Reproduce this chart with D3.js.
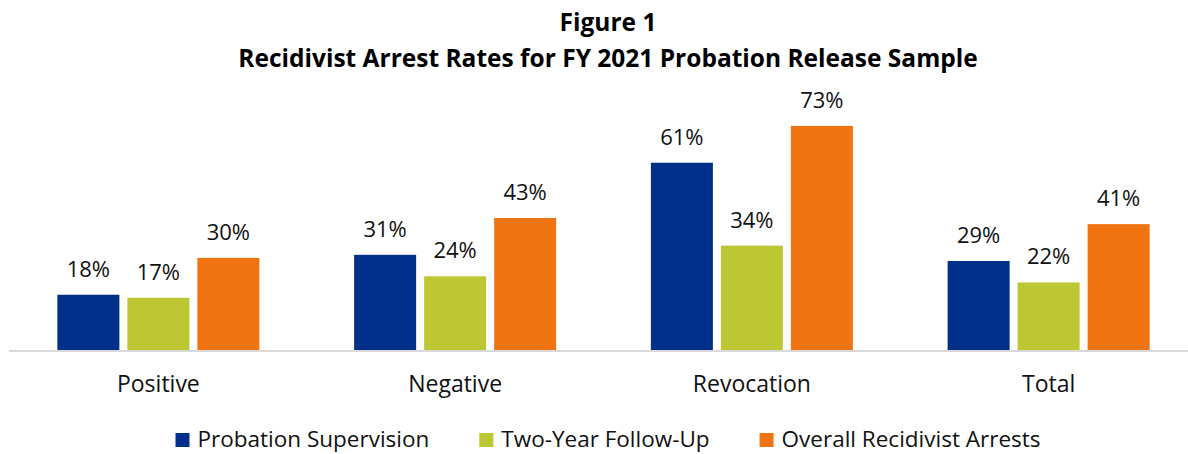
<!DOCTYPE html>
<html>
<head>
  <meta charset="utf-8">
  <title>Figure 1 – Recidivist Arrest Rates</title>
  <script src="https://d3js.org/d3.v7.min.js"></script>
  <style>
    html, body {
      margin: 0;
      padding: 0;
      background: #fff;
    }
    svg {
      display: block;
      font-family: "Open Sans", Lato, sans-serif;
    }
    .title {
      font-size: 24.5px;
      font-weight: bold;
      fill: #000;
    }
    .value {
      font-size: 22px;
      fill: #111;
    }
    .cat {
      font-size: 23px;
      fill: #111;
    }
    .legend-text {
      font-size: 22.5px;
      fill: #111;
    }
  </style>
</head>
<body>
  <svg id="chart" width="1188" height="454"></svg>

  <script>
    // chart data
    const categories = ["Positive", "Negative", "Revocation", "Total"];
    const seriesNames = ["Probation Supervision", "Two-Year Follow-Up", "Overall Recidivist Arrests"];
    const probationSupervision = [18, 31, 61, 29];
    const twoYearFollowUp = [17, 24, 34, 22];
    const overallArrests = [30, 43, 73, 41];
    const titleLines = ["Figure 1", "Recidivist Arrest Rates for FY 2021 Probation Release Sample"];

    const colors = ["#00308A", "#BDC633", "#F07411"];
    const seriesValues = [probationSupervision, twoYearFollowUp, overallArrests];

    const width = 1188, height = 454;
    const baseY = 350;
    const svg = d3.select("#chart");

    // title
    svg.selectAll(".title")
      .data(titleLines)
      .enter().append("text")
      .attr("class", "title")
      .attr("x", 608)
      .attr("y", (d, i) => i === 0 ? 31 : 67)
      .attr("text-anchor", "middle")
      .text(d => d);

    const x0 = d3.scaleBand()
      .domain(categories)
      .range([10, 1197])
      .padding(0);

    const groupW = 202;
    const x1 = d3.scaleBand()
      .domain(seriesNames)
      .range([(x0.bandwidth() - groupW) / 2, (x0.bandwidth() + groupW) / 2])
      .paddingInner(8 / 70)
      .paddingOuter(0);

    const y = d3.scaleLinear()
      .domain([0, 80])
      .range([baseY, baseY - 80 * 3.07]);

    // rows for each bar
    const rows = [];
    categories.forEach((c, ci) => {
      seriesNames.forEach((s, si) => {
        rows.push({ cat: c, series: s, si: si, value: seriesValues[si][ci] });
      });
    });

    const g = svg.append("g");

    g.selectAll(".bar")
      .data(rows)
      .enter().append("rect")
      .attr("class", "bar")
      .attr("x", d => x0(d.cat) + x1(d.series))
      .attr("y", d => y(d.value))
      .attr("width", x1.bandwidth())
      .attr("height", d => baseY - y(d.value))
      .attr("fill", d => colors[d.si]);

    g.selectAll(".value")
      .data(rows)
      .enter().append("text")
      .attr("class", "value")
      .attr("x", d => x0(d.cat) + x1(d.series) + x1.bandwidth() / 2)
      .attr("y", d => y(d.value) - 18)
      .attr("text-anchor", "middle")
      .text(d => d.value + "%");

    // x axis line
    svg.append("line")
      .attr("x1", 9)
      .attr("x2", width)
      .attr("y1", baseY + 1)
      .attr("y2", baseY + 1)
      .attr("stroke", "#d9d9d9")
      .attr("stroke-width", 2);

    svg.selectAll(".cat")
      .data(categories)
      .enter().append("text")
      .attr("class", "cat")
      .attr("x", d => x0(d) + x0.bandwidth() / 2)
      .attr("y", 392)
      .attr("text-anchor", "middle")
      .text(d => d);

    // legend, centred under the title
    const legend = svg.append("g");
    const items = legend.selectAll(".item")
      .data(seriesNames)
      .enter().append("g")
      .attr("class", "item");

    items.append("rect")
      .attr("width", 14)
      .attr("height", 14)
      .attr("y", 433)
      .attr("fill", (d, i) => colors[i]);

    items.append("text")
      .attr("class", "legend-text")
      .attr("x", 22)
      .attr("y", 447)
      .text(d => d);

    let xpos = 0;
    const offsets = [];
    items.each(function () {
      const w = d3.select(this).select("text").node().getComputedTextLength();
      offsets.push(xpos);
      xpos += 22 + w + 50;
    });
    const totalW = xpos - 50;
    const startX = 608 - totalW / 2;
    items.attr("transform", (d, i) => "translate(" + (startX + offsets[i]) + ",0)");
  </script>
</body>
</html>
